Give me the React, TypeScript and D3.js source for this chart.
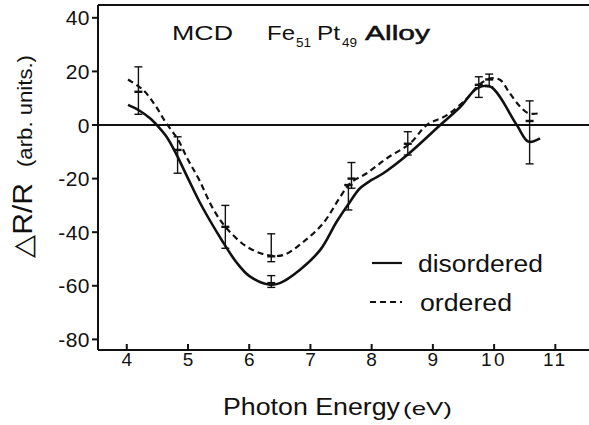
import React from "react";
import * as d3 from "d3";

const xTicks = [4, 5, 6, 7, 8, 9, 10, 11];
const yTicks = [40, 20, 0, -20, -40, -60, -80];

const disorderedE = [4.02, 4.19, 4.38, 4.49, 4.65, 4.8, 5.0, 5.2, 5.55, 5.8, 6.01, 6.34, 6.5, 6.83, 7.16, 7.43, 7.65, 7.81, 8.0, 8.19, 8.58, 9.12, 9.45, 9.72, 9.94, 10.37, 10.56, 10.75];
const disorderedV = [7.5, 5.6, 2.5, 0, -4.4, -10.5, -19.9, -29.2, -42.9, -51.5, -56.5, -59.6, -59, -54, -46.6, -36, -28.5, -23.6, -20.5, -18, -11.2, 0, 6.8, 13.7, 14.3, 0, -6.2, -5];

const orderedE = [4.02, 4.27, 4.46, 4.63, 4.84, 5.0, 5.17, 5.42, 5.63, 5.96, 6.29, 6.56, 6.89, 7.21, 7.49, 7.65, 7.92, 8.25, 8.63, 8.9, 9.23, 9.56, 9.75, 9.94, 10.1, 10.24, 10.4, 10.56, 10.75];
const orderedV = [17, 13, 7.5, 1.2, -5.6, -13, -19.9, -31.7, -38.5, -45.4, -48.5, -48.5, -43.5, -36.6, -26.7, -21.7, -18, -12.4, -6.8, 0, 3.7, 10, 14.9, 17.4, 16.8, 12.4, 7.5, 4.4, 4.4];

const errE = [4.19, 4.83, 5.61, 6.36, 6.36, 7.62, 7.67, 8.59, 9.75, 9.92, 10.58];
const errLo = [4, -18, -46, -51, -60.6, -31.7, -23.6, -11.2, 10.3, 14.3, -14.5];
const errHi = [21.7, -4.4, -30, -40.6, -56.2, -22.4, -14, -2.5, 18, 19, 9];
const errMid = [12.4, -9.3, -38, -49, -59, -22.4, -20, -7, 15, 17, 1.5];

const W = 589;
const H = 425;
const FONT = "'Liberation Sans', Arial, Helvetica, sans-serif";
const SG = "spacingAndGlyphs";

export default function App() {
  const x = d3.scaleLinear().domain([3.53, 11.55]).range([98, 589]);
  const y = d3.scaleLinear().domain([-83.96, 44.78]).range([350, 5]);
  const line = d3
    .line<[number, number]>()
    .x((d) => x(d[0]))
    .y((d) => y(d[1]))
    .curve(d3.curveCatmullRom.alpha(0.5));
  const dis = disorderedE.map((e, i) => [e, disorderedV[i]] as [number, number]);
  const ord = orderedE.map((e, i) => [e, orderedV[i]] as [number, number]);
  const left = x.range()[0];
  const right = x.range()[1];
  const top = y.range()[1];
  const bottom = y.range()[0];

  return (
    <svg
      width={W}
      height={H}
      style={{ position: "absolute", left: 0, top: 0, background: "#fff" }}
      fontFamily={FONT}
    >
      <rect x={0} y={0} width={W} height={H} fill="#fff" />
      {/* frame */}
      <line x1={left} x2={right} y1={top} y2={top} stroke="#111" strokeWidth={2} />
      <line x1={left} x2={left} y1={top} y2={bottom} stroke="#111" strokeWidth={2} />
      <line x1={left} x2={right} y1={bottom} y2={bottom} stroke="#111" strokeWidth={2} />
      <line x1={left} x2={right} y1={y(0)} y2={y(0)} stroke="#111" strokeWidth={1.8} />
      {/* y ticks */}
      {yTicks.map((t) => (
        <g key={t}>
          <line x1={left - 6} x2={left} y1={y(t)} y2={y(t)} stroke="#111" strokeWidth={2} />
          <text x={90} y={y(t) + 7.5} fontSize={21} textAnchor="end" fill="#111" letterSpacing={0.5}>
            {t}
          </text>
        </g>
      ))}
      {/* x ticks */}
      {xTicks.map((t) => (
        <g key={t}>
          <line x1={x(t)} x2={x(t)} y1={bottom} y2={bottom - 6} stroke="#111" strokeWidth={2} />
          <text x={x(t)} y={366} fontSize={19} textAnchor="middle" fill="#111" letterSpacing={t >= 10 ? 2.5 : 0}>
            {t}
          </text>
        </g>
      ))}
      {/* axis titles */}
      <text x={223} y={415} fontSize={23.5} fill="#111" textLength={177} lengthAdjust={SG}>
        Photon Energy
      </text>
      <text x={403} y={415} fontSize={19} fill="#111" textLength={49} lengthAdjust={SG}>
        (eV)
      </text>
      <g transform="translate(32,258) rotate(-90)">
        <text x={0} y={0} fontSize={27} fill="#111" textLength={75} lengthAdjust={SG}>
          {"\u25B3R/R"}
        </text>
        <text x={91} y={0} fontSize={20} fill="#111" textLength={112} lengthAdjust={SG}>
          (arb. units.)
        </text>
      </g>
      {/* title */}
      <text x={172} y={40} fontSize={21} fill="#111" textLength={61} lengthAdjust={SG}>
        MCD
      </text>
      <text x={267} y={40} fontSize={21} fill="#111" textLength={28} lengthAdjust={SG}>
        Fe
      </text>
      <text x={296} y={47} fontSize={12} fill="#111" textLength={15} lengthAdjust={SG}>
        51
      </text>
      <text x={317} y={40} fontSize={21} fill="#111" textLength={23} lengthAdjust={SG}>
        Pt
      </text>
      <text x={342} y={47} fontSize={12} fill="#111" textLength={15} lengthAdjust={SG}>
        49
      </text>
      <text x={365} y={40} fontSize={21} fill="#111" stroke="#111" strokeWidth={0.5} textLength={65} lengthAdjust={SG}>
        Alloy
      </text>
      {/* curves */}
      <path d={line(dis) || ""} fill="none" stroke="#111" strokeWidth={2.6} />
      <path d={line(ord) || ""} fill="none" stroke="#111" strokeWidth={2.2} strokeDasharray="6,4" />
      {/* error bars */}
      {errE.map((e, i) => (
        <g key={i} stroke="#111" strokeWidth={1.4}>
          <line x1={x(e)} x2={x(e)} y1={y(errLo[i])} y2={y(errHi[i])} />
          <line x1={x(e) - 4} x2={x(e) + 4} y1={y(errLo[i])} y2={y(errLo[i])} />
          <line x1={x(e) - 4} x2={x(e) + 4} y1={y(errHi[i])} y2={y(errHi[i])} />
          <line x1={x(e) - 4} x2={x(e) + 4} y1={y(errMid[i])} y2={y(errMid[i])} strokeWidth={2.4} />
        </g>
      ))}
      {/* legend */}
      <line x1={372} x2={402} y1={263} y2={263} stroke="#111" strokeWidth={2.2} />
      <text x={418} y={272} fontSize={23} fill="#111" textLength={125} lengthAdjust={SG}>
        disordered
      </text>
      <line x1={370} x2={402} y1={302} y2={302} stroke="#111" strokeWidth={2} strokeDasharray="6,4" />
      <text x={420} y={311} fontSize={23} fill="#111" textLength={92} lengthAdjust={SG}>
        ordered
      </text>
    </svg>
  );
}
